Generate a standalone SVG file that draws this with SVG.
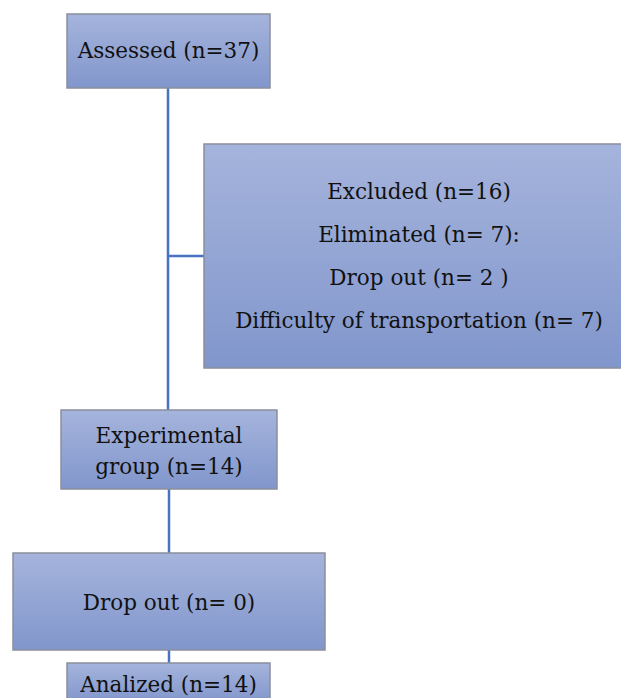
<svg xmlns="http://www.w3.org/2000/svg" width="621" height="698" viewBox="0 0 621 698">
<style>
.box{fill:url(#g);stroke:#8a8f9c;stroke-width:1.5}
.t{font-family:"DejaVu Serif","Liberation Serif",serif;font-size:21.5px;fill:#111;text-anchor:middle}
.c{stroke:#4a72c2;stroke-width:2.5;fill:none}
</style>
<defs>
<linearGradient id="g" x1="0" y1="0" x2="0" y2="1">
<stop offset="0" stop-color="#a5b4dc"/>
<stop offset="1" stop-color="#8196cc"/>
</linearGradient>
</defs>
<rect width="621" height="698" fill="#fff"/>
<g id="connectors">
<line class="c" x1="168" y1="88" x2="168" y2="410"/>
<line class="c" x1="168" y1="256" x2="204" y2="256"/>
<line class="c" x1="169" y1="489" x2="169" y2="553"/>
<line class="c" x1="169" y1="650" x2="169" y2="663"/>
</g>
<g id="assessed">
<rect class="box" x="67" y="14" width="203" height="74"/>
<text class="t" x="168.5" y="58">Assessed (n=37)</text>
</g>
<g id="excluded">
<rect class="box" x="204" y="144" width="420" height="224"/>
<text class="t" x="419" y="199">Excluded (n=16)</text>
<text class="t" x="419" y="242">Eliminated (n= 7):</text>
<text class="t" x="419" y="285">Drop out (n= 2 )</text>
<text class="t" x="419" y="328">Difficulty of transportation (n= 7)</text>
</g>
<g id="experimental">
<rect class="box" x="61" y="410" width="216" height="79"/>
<text class="t" x="169" y="443">Experimental</text>
<text class="t" x="169" y="474">group (n=14)</text>
</g>
<g id="dropout">
<rect class="box" x="13" y="553" width="312" height="97"/>
<text class="t" x="169" y="610">Drop out (n= 0)</text>
</g>
<g id="analized">
<rect class="box" x="67" y="663" width="203" height="40"/>
<text class="t" x="168.5" y="692">Analized (n=14)</text>
</g>
</svg>
